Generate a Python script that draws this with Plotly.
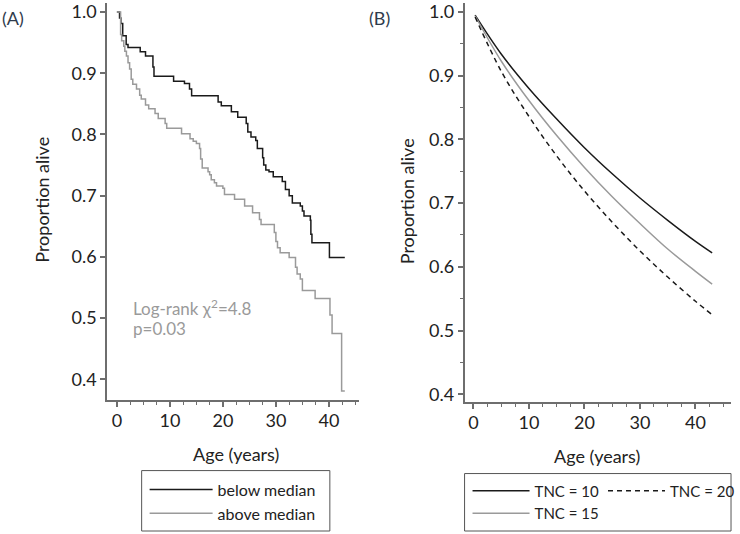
import plotly.graph_objects as go

# ---------------- Panel A: Kaplan-Meier (time of drop, survival after drop)
below_t = [0, 0.5, 0.75, 1.1, 1.75, 2.1, 4.4, 5.4, 6.8, 7.0, 10.7, 12.75, 13.7, 14.1,
           19.1, 19.7, 21.6, 22.8, 24.4, 24.7, 25.3, 26.2, 26.5, 27.5, 27.7, 28.1,
           28.7, 29.5, 31.2, 31.8, 32.5, 33.1, 34.6, 35.0, 35.3, 36.5, 36.6, 36.8,
           40.1, 43.0]
below_s = [1.0, 0.99, 0.981, 0.961, 0.947, 0.942, 0.935, 0.928, 0.91, 0.895, 0.887,
           0.883, 0.874, 0.863, 0.853, 0.847, 0.837, 0.828, 0.818, 0.804, 0.796,
           0.79, 0.777, 0.762, 0.75, 0.742, 0.739, 0.731, 0.723, 0.71, 0.70, 0.688,
           0.683, 0.675, 0.667, 0.66, 0.637, 0.623, 0.599, 0.599]

above_t = [0, 0.7, 0.9, 1.3, 1.5, 1.8, 2.1, 2.4, 2.7, 3.0, 3.7, 4.3, 4.6, 5.4, 6.0,
           7.2, 7.8, 9.1, 9.4, 12.2, 13.8, 14.4, 15.0, 15.6, 15.8, 16.1, 17.2, 17.5,
           17.8, 18.4, 18.8, 20.0, 20.3, 22.2, 24.1, 25.6, 26.9, 27.2, 29.7, 30.0,
           30.3, 30.8, 32.5, 33.7, 34.0, 34.6, 35.0, 37.4, 40.2, 40.6, 42.4, 43.0]
above_s = [1.0, 0.963, 0.953, 0.944, 0.936, 0.928, 0.917, 0.907, 0.89, 0.882, 0.874,
           0.864, 0.858, 0.848, 0.842, 0.834, 0.826, 0.818, 0.81, 0.801, 0.793,
           0.789, 0.785, 0.777, 0.76, 0.745, 0.739, 0.734, 0.726, 0.721, 0.716,
           0.712, 0.702, 0.694, 0.683, 0.672, 0.661, 0.653, 0.64, 0.625, 0.615,
           0.607, 0.599, 0.583, 0.572, 0.564, 0.545, 0.532, 0.505, 0.475, 0.381, 0.381]

# ---------------- Panel B: model curves
age_b = [0.3, 5, 10, 15, 20, 25, 30, 35, 40, 43]
tnc10 = [0.995, 0.934, 0.880, 0.832, 0.787, 0.746, 0.708, 0.673, 0.640, 0.622]
tnc15 = [0.994, 0.923, 0.861, 0.806, 0.756, 0.710, 0.668, 0.628, 0.593, 0.573]
tnc20 = [0.992, 0.907, 0.836, 0.774, 0.719, 0.670, 0.625, 0.584, 0.546, 0.525]

y_ticks = [0.4, 0.5, 0.6, 0.7, 0.8, 0.9, 1.0]
x_ticks = [0, 10, 20, 30, 40]

FONT = "Lato"
W, H = 740, 534
AX = "#6e6e6e"
DARK = "#1a1a1a"
GREY = "#9a9a9a"

def px(x):
    return x / W

def py(y):
    return 1 - y / H

fig = go.Figure()

fig.add_trace(go.Scatter(x=below_t, y=below_s, mode="lines", line_shape="hv",
                         line=dict(color=DARK, width=1.5), name="below median",
                         xaxis="x", yaxis="y", legend="legend"))
fig.add_trace(go.Scatter(x=above_t, y=above_s, mode="lines", line_shape="hv",
                         line=dict(color=GREY, width=1.5), name="above median",
                         xaxis="x", yaxis="y", legend="legend"))

fig.add_trace(go.Scatter(x=age_b, y=tnc10, mode="lines", line_shape="spline",
                         line=dict(color=DARK, width=1.5), name="TNC = 10",
                         xaxis="x2", yaxis="y2", legend="legend2"))
fig.add_trace(go.Scatter(x=age_b, y=tnc15, mode="lines", line_shape="spline",
                         line=dict(color=GREY, width=1.5), name="TNC = 15",
                         xaxis="x2", yaxis="y2", legend="legend2"))
fig.add_trace(go.Scatter(x=age_b, y=tnc20, mode="lines", line_shape="spline",
                         line=dict(color=DARK, width=1.5, dash="5px,4px"), name="TNC = 20",
                         xaxis="x2", yaxis="y2", legend="legend3"))

tickfont = dict(family=FONT, size=18, color="#222")
common_x = dict(showline=True, linecolor=AX, linewidth=1.5, ticks="outside", ticklen=5,
                tickwidth=1.5, tickcolor=AX, tickvals=x_ticks, showgrid=False,
                zeroline=False, tickfont=tickfont, ticklabelstandoff=-2,
                ticklabeloverflow="allow",
                minor=dict(dtick=2.5, tick0=0, ticks="outside", ticklen=3,
                           tickwidth=1.2, tickcolor=AX, showgrid=False))
common_y = dict(showline=True, linecolor=AX, linewidth=1.5, ticks="outside", ticklen=5,
                tickwidth=1.5, tickcolor=AX, tickvals=y_ticks, tickformat=".1f",
                showgrid=False, zeroline=False, tickfont=tickfont,
                ticklabeloverflow="allow")

legfont_a = dict(family=FONT, size=16, color="#222")
legfont_b = dict(family=FONT, size=15, color="#222")
fig.update_layout(
    width=W, height=H, margin=dict(l=0, r=0, t=0, b=0),
    paper_bgcolor="white", plot_bgcolor="white", showlegend=True,
    xaxis=dict(domain=[px(108), px(362)], range=[-1.87, 45.6], anchor="y", **common_x),
    yaxis=dict(domain=[py(401), 1], range=[0.366, 1.0146], anchor="x", **common_y),
    xaxis2=dict(domain=[px(469), px(738)], range=[-1.6, 46.4], anchor="y2", **common_x),
    yaxis2=dict(domain=[py(403), 1], range=[0.3876, 1.014], anchor="x2",
                minor=dict(dtick=0.05, tick0=0, ticks="outside", ticklen=3,
                           tickwidth=1.2, tickcolor=AX, showgrid=False),
                **common_y),
    legend=dict(x=px(146), y=py(474), xanchor="left", yanchor="top",
                bgcolor="rgba(0,0,0,0)", borderwidth=0, font=legfont_a,
                tracegroupgap=0, itemwidth=63),
    legend2=dict(x=px(472), y=py(476), xanchor="left", yanchor="top",
                 bgcolor="rgba(0,0,0,0)", borderwidth=0, font=legfont_b,
                 tracegroupgap=0, itemwidth=57),
    legend3=dict(x=px(609), y=py(476), xanchor="left", yanchor="top",
                 bgcolor="rgba(0,0,0,0)", borderwidth=0, font=legfont_b,
                 tracegroupgap=0, itemwidth=57),
    shapes=[
        dict(type="rect", xref="paper", yref="paper", x0=px(143), x1=px(333),
             y0=py(533), y1=py(472), line=dict(color="#555", width=1)),
        dict(type="rect", xref="paper", yref="paper", x0=px(469), x1=px(738),
             y0=py(533), y1=py(475), line=dict(color="#555", width=1)),
    ],
)

ann_font = dict(family=FONT, size=18, color="#222")
annotations = [
    dict(text="(A)", x=px(0), y=py(15), xanchor="left", yanchor="middle",
         font=dict(family=FONT, size=18, color="#2f3b4c")),
    dict(text="(B)", x=px(370), y=py(15), xanchor="left", yanchor="middle",
         font=dict(family=FONT, size=18, color="#2f3b4c")),
    dict(text="Proportion alive", x=px(43), y=py(199), textangle=-90,
         xanchor="center", yanchor="middle", font=ann_font),
    dict(text="Proportion alive", x=px(411), y=py(200), textangle=-90,
         xanchor="center", yanchor="middle", font=ann_font),
    dict(text="Age (years)", x=px(238), y=py(455), xanchor="center",
         yanchor="middle", font=ann_font),
    dict(text="Age (years)", x=px(603), y=py(457), xanchor="center",
         yanchor="middle", font=ann_font),
    dict(text="Log-rank χ<sup>2</sup>=4.8", x=px(132), y=py(307), xanchor="left",
         yanchor="middle", font=dict(family=FONT, size=17, color=GREY)),
    dict(text="p=0.03", x=px(132), y=py(329), xanchor="left",
         yanchor="middle", font=dict(family=FONT, size=17, color=GREY)),
]
for a in annotations:
    a.update(xref="paper", yref="paper", showarrow=False)
fig.update_layout(annotations=annotations)

# remove the browser's default 8px page margin so the figure sits at (0, 0)
fig.write_html("out.html", config={"displayModeBar": False},
               post_script="document.body.style.margin='0';"
                           "document.body.style.overflow='hidden';")
